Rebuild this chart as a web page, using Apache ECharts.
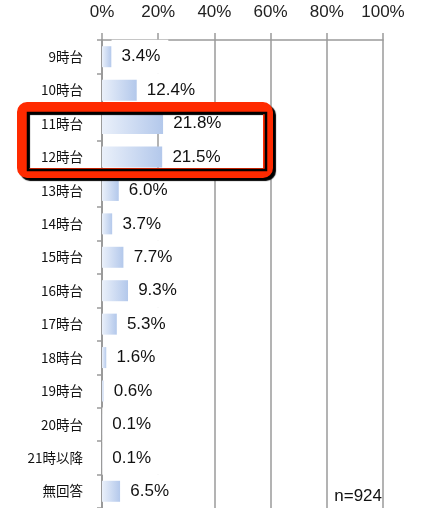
<!DOCTYPE html>
<html>
<head>
<meta charset="utf-8">
<script src="https://cdn.jsdelivr.net/npm/echarts@6/dist/echarts.min.js"></script>
<style>
  html, body { margin: 0; padding: 0; background: #fff; }
  #main { width: 430px; height: 508px; }
</style>
</head>
<body>
<div id="main"></div>
<script>
var categories = ['9時台', '10時台', '11時台', '12時台', '13時台', '14時台', '15時台',
  '16時台', '17時台', '18時台', '19時台', '20時台', '21時以降', '無回答'];
var shares = [3.4, 12.4, 21.8, 21.5, 6.0, 3.7, 7.7, 9.3, 5.3, 1.6, 0.6, 0.1, 0.1, 6.5];
var xTicks = [0, 20, 40, 60, 80, 100];
var sampleNote = 'n=924';

var myChart = echarts.init(document.getElementById('main'));
var gridColor = '#9a9a9a';

var option = {
  backgroundColor: '#fff',
  animation: false,
  grid: { left: 102, right: 47, top: 40, height: 470, containLabel: false },
  xAxis: {
    type: 'value',
    position: 'top',
    min: xTicks[0],
    max: xTicks[xTicks.length - 1],
    interval: 20,
    axisLine: { show: true, lineStyle: { color: gridColor, width: 1.5 } },
    axisTick: { show: true, length: 7, lineStyle: { color: gridColor, width: 1.5 } },
    axisLabel: {
      formatter: '{value}%', margin: 19,
      color: '#222', fontSize: 17, fontFamily: 'Liberation Sans'
    },
    splitLine: { show: true, lineStyle: { color: gridColor, width: 1.5 } }
  },
  yAxis: {
    type: 'category',
    inverse: true,
    data: categories,
    axisLine: { show: true, lineStyle: { color: gridColor, width: 2 } },
    axisTick: { show: true, length: 5, lineStyle: { color: gridColor, width: 1.5 } },
    axisLabel: {
      margin: 19, color: '#111', fontSize: 13.5,
      fontFamily: '"Noto Sans CJK JP", sans-serif'
    }
  },
  series: [{
    type: 'bar',
    data: shares,
    barWidth: 21,
    itemStyle: {
      color: new echarts.graphic.LinearGradient(0, 0, 1, 0, [
        { offset: 0, color: '#eaf0fa' },
        { offset: 1, color: '#b3c8eb' }
      ])
    },
    label: {
      show: true,
      position: 'right',
      distance: 0,
      formatter: function (p) { return p.value.toFixed(1) + '%'; },
      color: '#111',
      fontSize: 17,
      fontFamily: 'Liberation Sans',
      backgroundColor: '#fff',
      padding: [11, 8, 6, 10]
    }
  }],
  graphic: [
    {
      type: 'rect', z: 100,
      shape: { x: 22, y: 107, width: 246, height: 66, r: 5 },
      style: {
        fill: null, stroke: '#ff2a00', lineWidth: 10,
        shadowColor: '#000', shadowBlur: 1, shadowOffsetX: 3, shadowOffsetY: 3
      }
    },
    {
      type: 'rect', z: 101,
      shape: { x: 28, y: 113, width: 238, height: 57 },
      style: { fill: null, stroke: '#000', lineWidth: 2.5 }
    },
    {
      type: 'text', z: 100,
      style: {
        x: 382, y: 496, text: sampleNote, align: 'right', verticalAlign: 'middle',
        fill: '#111', fontSize: 17, fontFamily: 'Liberation Sans'
      }
    }
  ]
};

myChart.setOption(option);
</script>
</body>
</html>
